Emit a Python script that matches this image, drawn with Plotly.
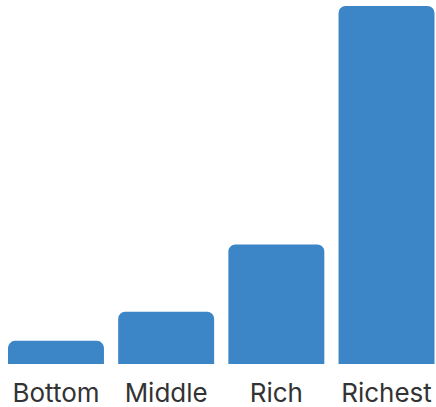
import plotly.graph_objects as go

# Wealth groups and their share (percent)
groups = ["Bottom", "Middle", "Rich", "Richest"]
shares = [4.2, 9.5, 21.7, 65.0]

BAR_COLOR = "#3c86c8"

fig = go.Figure(
    go.Bar(
        x=groups,
        y=shares,
        width=0.871,
        marker=dict(color=BAR_COLOR, line=dict(width=0)),
        hoverinfo="skip",
    )
)

fig.update_layout(
    width=436,
    height=407,
    margin=dict(l=0, r=0, t=0, b=43),
    paper_bgcolor="white",
    plot_bgcolor="white",
    barcornerradius=7,
    showlegend=False,
    font=dict(family="Inter", color="#333333"),
)

fig.update_xaxes(
    range=[-0.508, 3.449],
    showgrid=False,
    zeroline=False,
    showline=False,
    ticks="",
    tickfont=dict(size=26, family="Inter", color="#333333"),
    ticklabelstandoff=11,
)
fig.update_yaxes(
    range=[0, 66.1],
    visible=False,
    showgrid=False,
    zeroline=False,
)

fig.write_html("out.html", config={"displayModeBar": False})
